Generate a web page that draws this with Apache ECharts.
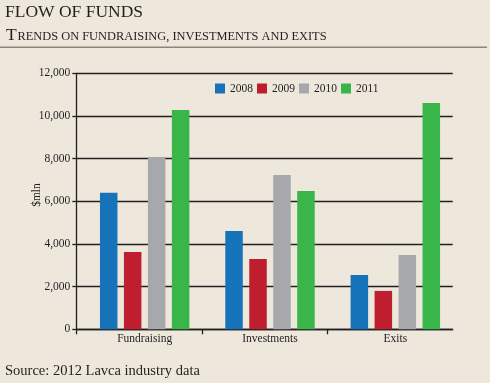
<!DOCTYPE html>
<html>
<head>
<meta charset="utf-8">
<script src="https://cdn.jsdelivr.net/npm/echarts@6/dist/echarts.min.js"></script>
<style>
html,body{margin:0;padding:0;background:#ede7dc;}
#c{width:490px;height:383px;}
</style>
</head>
<body>
<div id="c"></div>
<script>
const categories = ['Fundraising', 'Investments', 'Exits'];
const years = ['2008', '2009', '2010', '2011'];
const v2008 = [6400, 4610, 2550];
const v2009 = [3620, 3300, 1800];
const v2010 = [8080, 7230, 3480];
const v2011 = [10280, 6480, 10610];
const yMin = 0, yMax = 12000, yStep = 2000;
const colors = ['#1673b9', '#be1e2d', '#a7a8ab', '#39b54a'];
const titleText = 'FLOW OF FUNDS';
const subFirst = 'T';
const subRest = 'RENDS ON FUNDRAISING, INVESTMENTS AND EXITS';
const yName = '$mln';
const sourceText = 'Source: 2012 Lavca industry data';

const serif = '"Liberation Serif", "DejaVu Serif", serif';
const ink = '#231f20';
const chart = echarts.init(document.getElementById('c'), null, {renderer: 'canvas'});
const values = [v2008, v2009, v2010, v2011];

const option = {
  backgroundColor: '#ede7dc',
  animation: false,
  textStyle: {fontFamily: serif, color: ink},
  grid: [
    {left: 76.3, right: 37.3, top: 73.3, bottom: 53.7},
    {left: 82, right: 32, top: 73.3, bottom: 53.7}
  ],
  legend: {
    data: years,
    left: 215, top: 82.5, padding: 0,
    itemWidth: 10, itemHeight: 10, itemGap: 4,
    icon: 'rect',
    textStyle: {fontFamily: serif, fontSize: 11.5, color: ink}
  },
  xAxis: [
    {
      type: 'value', gridIndex: 0, min: 0, max: 3,
      axisLine: {show: true, onZero: false, lineStyle: {color: ink, width: 1.3}},
      axisTick: {show: true, length: 5, customValues: [0, 1, 2], lineStyle: {color: ink, width: 1.3}},
      axisLabel: {show: false},
      splitLine: {show: false}
    },
    {
      type: 'category', gridIndex: 1, data: categories,
      axisLine: {show: false}, axisTick: {show: false},
      axisLabel: {show: true, margin: 4, fontSize: 11.5, fontFamily: serif, color: ink},
      splitLine: {show: false}
    }
  ],
  yAxis: [
    {
      type: 'value', gridIndex: 0, min: yMin, max: yMax, interval: yStep,
      axisLine: {show: true, lineStyle: {color: ink, width: 1.3}},
      axisTick: {show: true, length: 4, lineStyle: {color: ink, width: 1.3}},
      axisLabel: {margin: 6, fontSize: 11.5, fontFamily: serif, color: ink,
        formatter: v => v.toLocaleString('en-US')},
      splitLine: {show: true, lineStyle: {color: ink, width: 1.3}}
    },
    {
      type: 'value', gridIndex: 1, min: yMin, max: yMax, interval: yStep,
      show: false, splitLine: {show: false}
    }
  ],
  series: years.map((y, i) => ({
    name: y, type: 'bar', xAxisIndex: 1, yAxisIndex: 1,
    data: values[i], barWidth: 17.5, barGap: '37%',
    itemStyle: {color: colors[i]}
  })),
  graphic: [
    {type: 'text', x: 5, y: 12.5, style: {text: titleText, font: '17.5px ' + serif, fill: ink, verticalAlign: 'middle'}},
    {type: 'text', x: 6, y: 35.7, style: {text: subFirst, font: '17.5px ' + serif, fill: ink, verticalAlign: 'middle'}},
    {type: 'text', x: 17.5, y: 37.2, style: {text: subRest, font: '12.4px ' + serif, fill: ink, verticalAlign: 'middle'}},
    {type: 'line', shape: {x1: 0, y1: 47.3, x2: 487, y2: 47.3}, style: {stroke: '#8d8676', lineWidth: 1.5}},
    {type: 'text', x: 37, y: 195, rotation: Math.PI / 2, style: {text: yName, font: '11.5px ' + serif, fill: ink, align: 'center', verticalAlign: 'middle'}},
    {type: 'text', x: 5, y: 371, style: {text: sourceText, font: '14.5px ' + serif, fill: ink, verticalAlign: 'middle'}}
  ]
};
chart.setOption(option);
</script>
</body>
</html>
